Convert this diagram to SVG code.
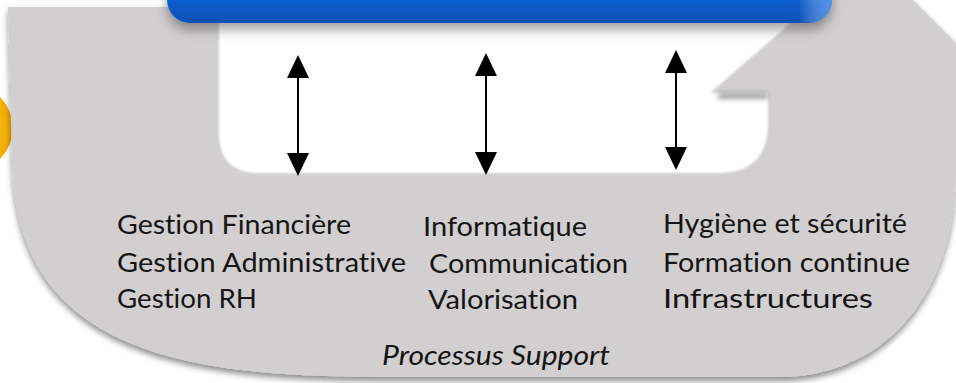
<svg xmlns="http://www.w3.org/2000/svg" width="956" height="383" viewBox="0 0 956 383">
  <defs>
    <style>
      .lbl { font-family: Lato, "Open Sans", "Noto Sans", sans-serif; font-size: 26.5px; fill: #151515; font-variant-ligatures: none; }
      .it { font-style: italic; }
      .conn { stroke: #000; stroke-width: 2; fill: none; marker-start: url(#head); marker-end: url(#head); }
    </style>
    <marker id="head" viewBox="0 0 24 22" refX="20" refY="11" markerWidth="24" markerHeight="22" markerUnits="userSpaceOnUse" orient="auto-start-reverse">
      <path d="M0,0 L23,11 L0,22 Z" fill="#000"/>
    </marker>
    <linearGradient id="blue" x1="0" y1="0" x2="0" y2="1">
      <stop offset="0" stop-color="#2c80e8"/>
      <stop offset="0.6" stop-color="#0b5fd0"/>
      <stop offset="1" stop-color="#0a50b4"/>
    </linearGradient>
    <linearGradient id="blueHi" x1="0" y1="0" x2="1" y2="0">
      <stop offset="0" stop-color="#ffffff" stop-opacity="0"/>
      <stop offset="0.95" stop-color="#ffffff" stop-opacity="0"/>
      <stop offset="1" stop-color="#7ab8ff" stop-opacity="0.6"/>
    </linearGradient>
    <radialGradient id="yellow" cx="0.4" cy="0.5" r="0.6">
      <stop offset="0" stop-color="#ffd43a"/>
      <stop offset="1" stop-color="#f2a900"/>
    </radialGradient>
    <filter id="shadow" x="-5%" y="-10%" width="110%" height="120%">
      <feDropShadow dx="0" dy="4" stdDeviation="3" flood-color="#000" flood-opacity="0.45"/>
    </filter>
    <filter id="barShadow" x="-5%" y="-50%" width="110%" height="250%">
      <feDropShadow dx="0" dy="7" stdDeviation="6" flood-color="#000" flood-opacity="0.35"/>
    </filter>
    <filter id="soft" x="-5%" y="-5%" width="110%" height="110%">
      <feGaussianBlur stdDeviation="1.2"/>
    </filter>
    <filter id="blur3" x="-20%" y="-100%" width="140%" height="300%">
      <feGaussianBlur stdDeviation="2.5"/>
    </filter>
  </defs>

  <rect width="956" height="383" fill="#ffffff"/>

  <g id="yellow-circle">
    <circle cx="-30" cy="128" r="43" fill="url(#yellow)"/>
  </g>

  <g id="support-shape">
    <path filter="url(#shadow)" fill="#d2cfd0" d="M8,7 L175,7 L175,-20 L893,-20 L956,43 L962,43 L962,170 L956,170 C955,300 880,377 780,377 L380,377 C170,377 15,345 12,160 Z"/>
    <path filter="url(#soft)" fill="#ffffff" d="M219,22 L219,133 Q219,173 259,173 L718,173 Q768,173 768,123 L768,93 L710,93 L792,22 Z"/>
    <rect x="718" y="93" width="50" height="6" fill="#555" opacity="0.55" filter="url(#blur3)"/>
  </g>

  <g id="top-bar">
    <rect x="167" y="-40" width="665" height="63" rx="23" fill="url(#blue)" filter="url(#barShadow)"/>
    <rect x="167" y="-40" width="665" height="63" rx="23" fill="url(#blueHi)"/>
  </g>

  <g id="connectors">
    <line class="conn" x1="298" y1="58" x2="298" y2="173"/>
    <line class="conn" x1="486" y1="56" x2="486" y2="172"/>
    <line class="conn" x1="676" y1="53" x2="676" y2="167"/>
  </g>

  <g id="col-gestion">
    <text class="lbl" x="117" y="234" textLength="234" lengthAdjust="spacingAndGlyphs">Gestion Financière</text>
    <text class="lbl" x="117" y="272" textLength="289" lengthAdjust="spacingAndGlyphs">Gestion Administrative</text>
    <text class="lbl" x="117" y="308" textLength="140" lengthAdjust="spacingAndGlyphs">Gestion RH</text>
  </g>

  <g id="col-informatique">
    <text class="lbl" x="423" y="236" textLength="164" lengthAdjust="spacingAndGlyphs">Informatique</text>
    <text class="lbl" x="429" y="273" textLength="199" lengthAdjust="spacingAndGlyphs">Communication</text>
    <text class="lbl" x="428" y="309" textLength="150" lengthAdjust="spacingAndGlyphs">Valorisation</text>
  </g>

  <g id="col-hygiene">
    <text class="lbl" x="663" y="233" textLength="244" lengthAdjust="spacingAndGlyphs">Hygiène et sécurité</text>
    <text class="lbl" x="663" y="272" textLength="247" lengthAdjust="spacingAndGlyphs">Formation continue</text>
    <text class="lbl" x="663" y="308" textLength="210" lengthAdjust="spacingAndGlyphs">Infrastructures</text>
  </g>

  <g id="label">
    <text class="lbl it" x="382" y="365" textLength="228" lengthAdjust="spacingAndGlyphs">Processus Support</text>
  </g>
</svg>
